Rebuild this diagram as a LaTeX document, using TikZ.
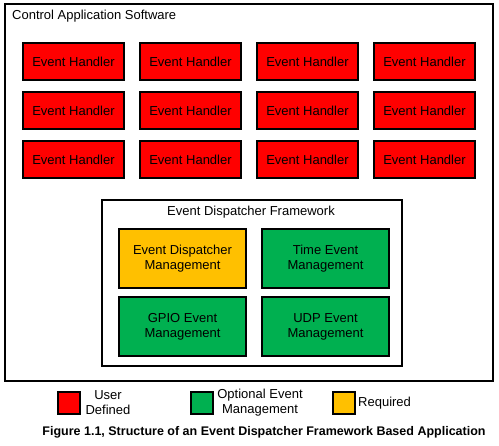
\documentclass[tikz,border=0pt]{standalone}
\usepackage{fontspec}
\setmainfont{Liberation Sans}
\definecolor{handlerred}{HTML}{FF0000}
\definecolor{optgreen}{HTML}{00B050}
\definecolor{reqyellow}{HTML}{FFC000}
\begin{document}
\begin{tikzpicture}[x=1pt,y=-1pt,
  every node/.style={font=\fontsize{13}{15}\selectfont, inner sep=0pt},
  frame/.style={draw=black, line width=2pt, fill=white},
  handler/.style={draw=black, line width=2pt, fill=handlerred, minimum width=101pt, minimum height=37pt},
  mgmt/.style={draw=black, line width=2pt, minimum width=127pt, minimum height=59pt, align=center},
  swatch/.style={draw=black, line width=2pt, minimum width=22pt, minimum height=22pt},
  legendtext/.style={align=center, font=\fontsize{13}{15}\selectfont}]
\useasboundingbox (0,0) rectangle (499,446);
\fill[white] (0,0) rectangle (499,446);

% application frame
\draw[frame] (5,4) rectangle (493,381);
\node[anchor=west] (apptitle) at (12,16) {Control Application Software};

% event handler grid
\foreach \c/\x in {1/73.5, 2/190.5, 3/307.5, 4/424.5}{
  \foreach \r/\y in {1/62, 2/111, 3/160}{
    \node[handler] (h\r\c) at (\x,\y) {Event Handler};
  }
}

% dispatcher framework
\draw[frame] (102,200) rectangle (401.5,366.5);
\node (edftitle) at (251,212) {Event Dispatcher Framework};
\node[mgmt, fill=reqyellow] (edm) at (182.5,258.5) {Event Dispatcher\\Management};
\node[mgmt, fill=optgreen] (tem) at (325.5,258.5) {Time Event\\Management};
\node[mgmt, fill=optgreen] (gem) at (182.5,327) {GPIO Event\\Management};
\node[mgmt, fill=optgreen] (uem) at (325.5,327) {UDP Event\\Management};

% legend
\node[swatch, fill=handlerred] (swred) at (68.5,403) {};
\node[legendtext] (lgred) at (108,403) {User\\Defined};
\node[swatch, fill=optgreen] (swgreen) at (202,403) {};
\node[legendtext] (lggreen) at (260,403) {Optional Event\\Management};
\node[swatch, fill=reqyellow] (swyellow) at (344,403) {};
\node[legendtext, anchor=west] (lgyellow) at (358,403) {Required};

% caption
\node[font=\fontsize{12.5}{14}\selectfont\bfseries] (caption) at (264,432)
  {Figure 1.1, Structure of an Event Dispatcher Framework Based Application};
\end{tikzpicture}
\end{document}
